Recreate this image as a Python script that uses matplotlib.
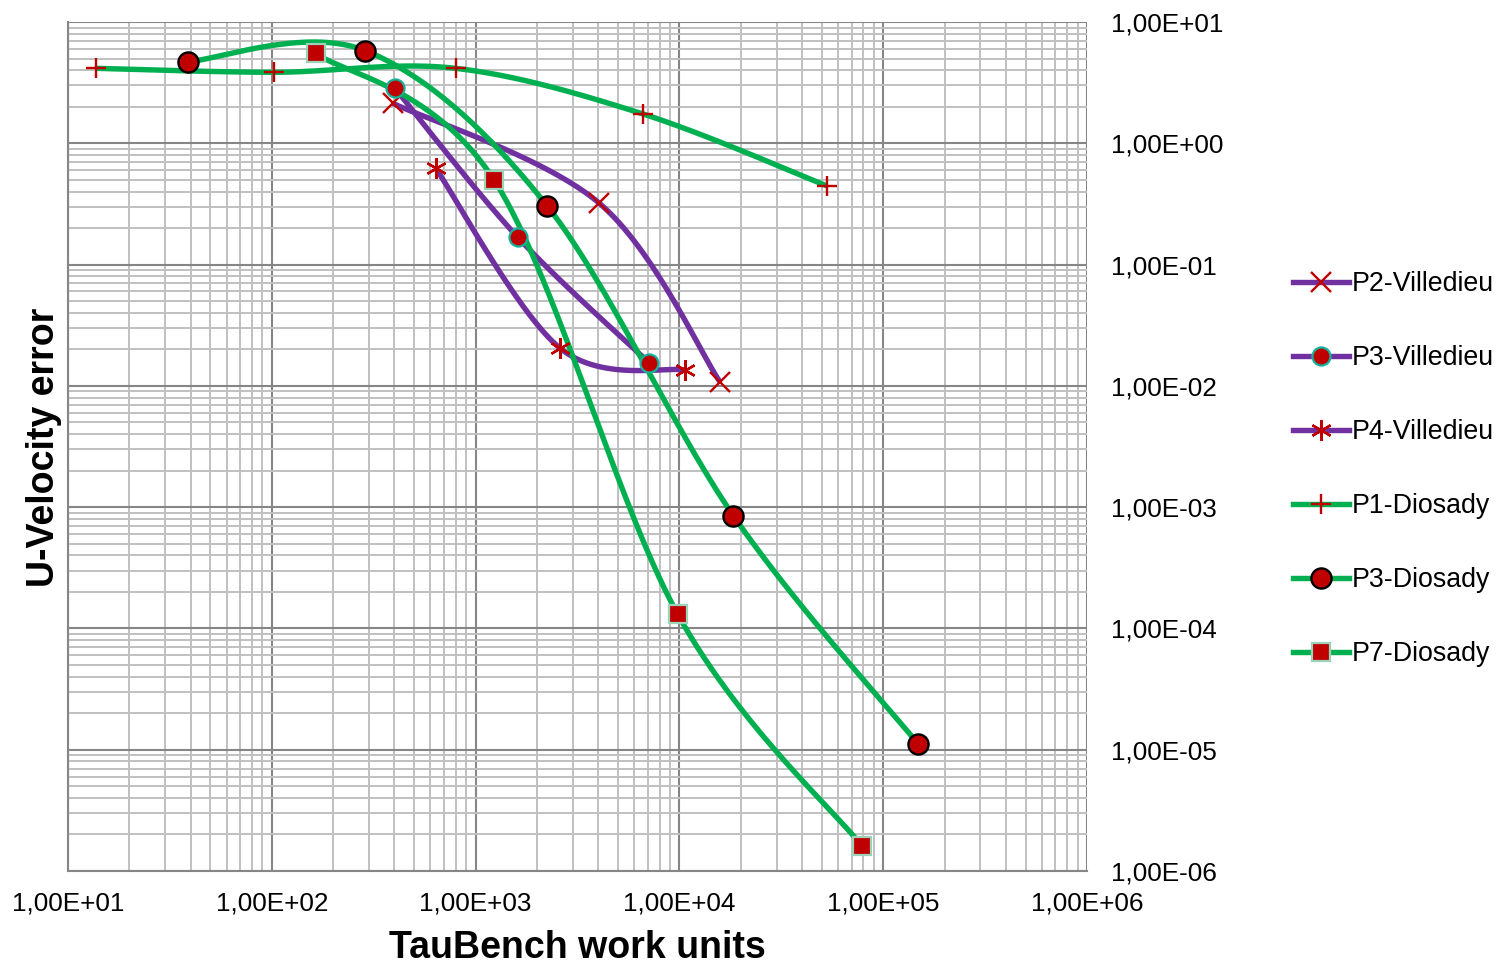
import numpy as np
import matplotlib
matplotlib.use("Agg")
from matplotlib import pyplot as plt
from matplotlib.ticker import FixedLocator, FuncFormatter, NullFormatter

plt.rcParams['font.family'] = ['Liberation Sans', 'DejaVu Sans']

# work units / error pairs for each scheme
p2_vil_x = [392, 4050, 15800]
p2_vil_y = [2.14, 0.32, 0.0108]

p3_vil_x = [402, 1610, 7120]
p3_vil_y = [2.84, 0.168, 0.0154]

p4_vil_x = [637, 2600, 10700]
p4_vil_y = [0.622, 0.0204, 0.0135]

p1_dio_x = [13.7, 102.5, 798, 6630, 53000]
p1_dio_y = [4.15, 3.85, 4.15, 1.745, 0.445]

p3_dio_x = [38.9, 288, 2240, 18400, 148700]
p3_dio_y = [4.71, 5.80, 0.306, 8.5e-4, 1.11e-5]

p7_dio_x = [164, 1232, 9810, 78400]
p7_dio_y = [5.52, 0.498, 1.31e-4, 1.62e-6]

# decades shown on each axis
x_decades = [1, 2, 3, 4, 5, 6]
y_decades = [-6, -5, -4, -3, -2, -1, 0, 1]

PURPLE = "#7030A0"
GREEN = "#00B050"
RED = "#C00000"


def smooth(xs, ys, n=60):
    """Catmull-Rom style smoothing done in log-log space (like Excel smoothed lines)."""
    p = np.column_stack([np.log10(xs), np.log10(ys)])
    p = np.vstack([p[0], p, p[-1]])
    out = []
    for i in range(1, len(p) - 2):
        p0, p1, p2, p3 = p[i - 1], p[i], p[i + 1], p[i + 2]
        c1 = p1 + (p2 - p0) / 6
        c2 = p2 - (p3 - p1) / 6
        t = np.linspace(0, 1, n)[:, None]
        seg = ((1 - t) ** 3 * p1 + 3 * (1 - t) ** 2 * t * c1
               + 3 * (1 - t) * t ** 2 * c2 + t ** 3 * p2)
        out.append(seg if i == 1 else seg[1:])
    out = np.vstack(out)
    return 10 ** out[:, 0], 10 ** out[:, 1]


def minor_ticks(decades):
    return [m * 10.0 ** d for d in decades[:-1] for m in range(2, 10)]


series = [
    ("P2-Villedieu", p2_vil_x, p2_vil_y, PURPLE,
     dict(marker="x", markersize=14, markeredgewidth=1.7,
          markerfacecolor=RED, markeredgecolor=RED)),
    ("P3-Villedieu", p3_vil_x, p3_vil_y, PURPLE,
     dict(marker="o", markersize=13, markeredgewidth=1.6,
          markerfacecolor=RED, markeredgecolor="#12B39A")),
    ("P4-Villedieu", p4_vil_x, p4_vil_y, PURPLE,
     dict(marker=(6, 2, 0), markersize=15, markeredgewidth=1.7,
          markerfacecolor=RED, markeredgecolor=RED)),
    ("P1-Diosady", p1_dio_x, p1_dio_y, GREEN,
     dict(marker="+", markersize=15, markeredgewidth=1.7,
          markerfacecolor=RED, markeredgecolor=RED)),
    ("P3-Diosady", p3_dio_x, p3_dio_y, GREEN,
     dict(marker="o", markersize=14.5, markeredgewidth=1.7,
          markerfacecolor=RED, markeredgecolor="black")),
    ("P7-Diosady", p7_dio_x, p7_dio_y, GREEN,
     dict(marker="s", markersize=13, markeredgewidth=1.6,
          markerfacecolor=RED, markeredgecolor="#9AD3B8")),
]

fig = plt.figure(figsize=(14.99, 9.66), dpi=100)
W, H = 1499, 966
ax = fig.add_axes([68 / W, (H - 871) / H, (1087 - 68) / W, (871 - 22) / H])
ax.set_xscale("log")
ax.set_yscale("log")

handles = []
for name, xs, ys, lc, mk in series:
    sx, sy = smooth(xs, ys)
    ax.plot(sx, sy, color=lc, lw=3.9, solid_capstyle="butt", zorder=3)
    ax.plot(xs, ys, linestyle="none", zorder=4, **mk)
    h, = ax.plot([], [], color=lc, lw=3.9, **mk)
    h.set_label(name)
    handles.append(h)

# grid and ticks only at the decades in range
ax.xaxis.set_major_locator(FixedLocator([10.0 ** d for d in x_decades]))
ax.yaxis.set_major_locator(FixedLocator([10.0 ** d for d in y_decades]))
ax.xaxis.set_minor_locator(FixedLocator(minor_ticks(x_decades)))
ax.yaxis.set_minor_locator(FixedLocator(minor_ticks(y_decades)))
ax.xaxis.set_minor_formatter(NullFormatter())
ax.yaxis.set_minor_formatter(NullFormatter())
ax.set_xlim(10.0 ** x_decades[0], 10.0 ** x_decades[-1])
ax.set_ylim(10.0 ** y_decades[0], 10.0 ** y_decades[-1])
ax.grid(which="major", color="#868686", lw=1.5, zorder=1)
ax.grid(which="minor", color="#C0C0C0", lw=1.4, zorder=0)
ax.set_axisbelow(True)

fmt = FuncFormatter(lambda v, pos: "{:.2E}".format(v).replace(".", ","))
ax.xaxis.set_major_formatter(fmt)
ax.yaxis.set_major_formatter(fmt)
ax.yaxis.tick_right()
ax.tick_params(which="both", length=0)
ax.tick_params(axis="x", labelsize=18.8, pad=15)
ax.tick_params(axis="y", labelsize=18.8, pad=17)

for s in ["top", "right"]:
    ax.spines[s].set_visible(False)
for s in ["left", "bottom"]:
    ax.spines[s].set_color("#868686")
    ax.spines[s].set_linewidth(1.5)

ax.set_xlabel("TauBench work units", fontsize=27, fontweight="bold", labelpad=10)
fig.text(44 / W, 1 - 447 / H, "U-Velocity error", fontsize=27, fontweight="bold",
         rotation=90, ha="center", va="center")

fig.legend(handles=handles, loc="upper left", bbox_to_anchor=(1293 / W, 1 - 271 / H),
           frameon=False, fontsize=19.3, handlelength=2.1, handletextpad=0.08,
           labelspacing=1.79, borderpad=0, borderaxespad=0)

fig.savefig("out.png", dpi=100)
